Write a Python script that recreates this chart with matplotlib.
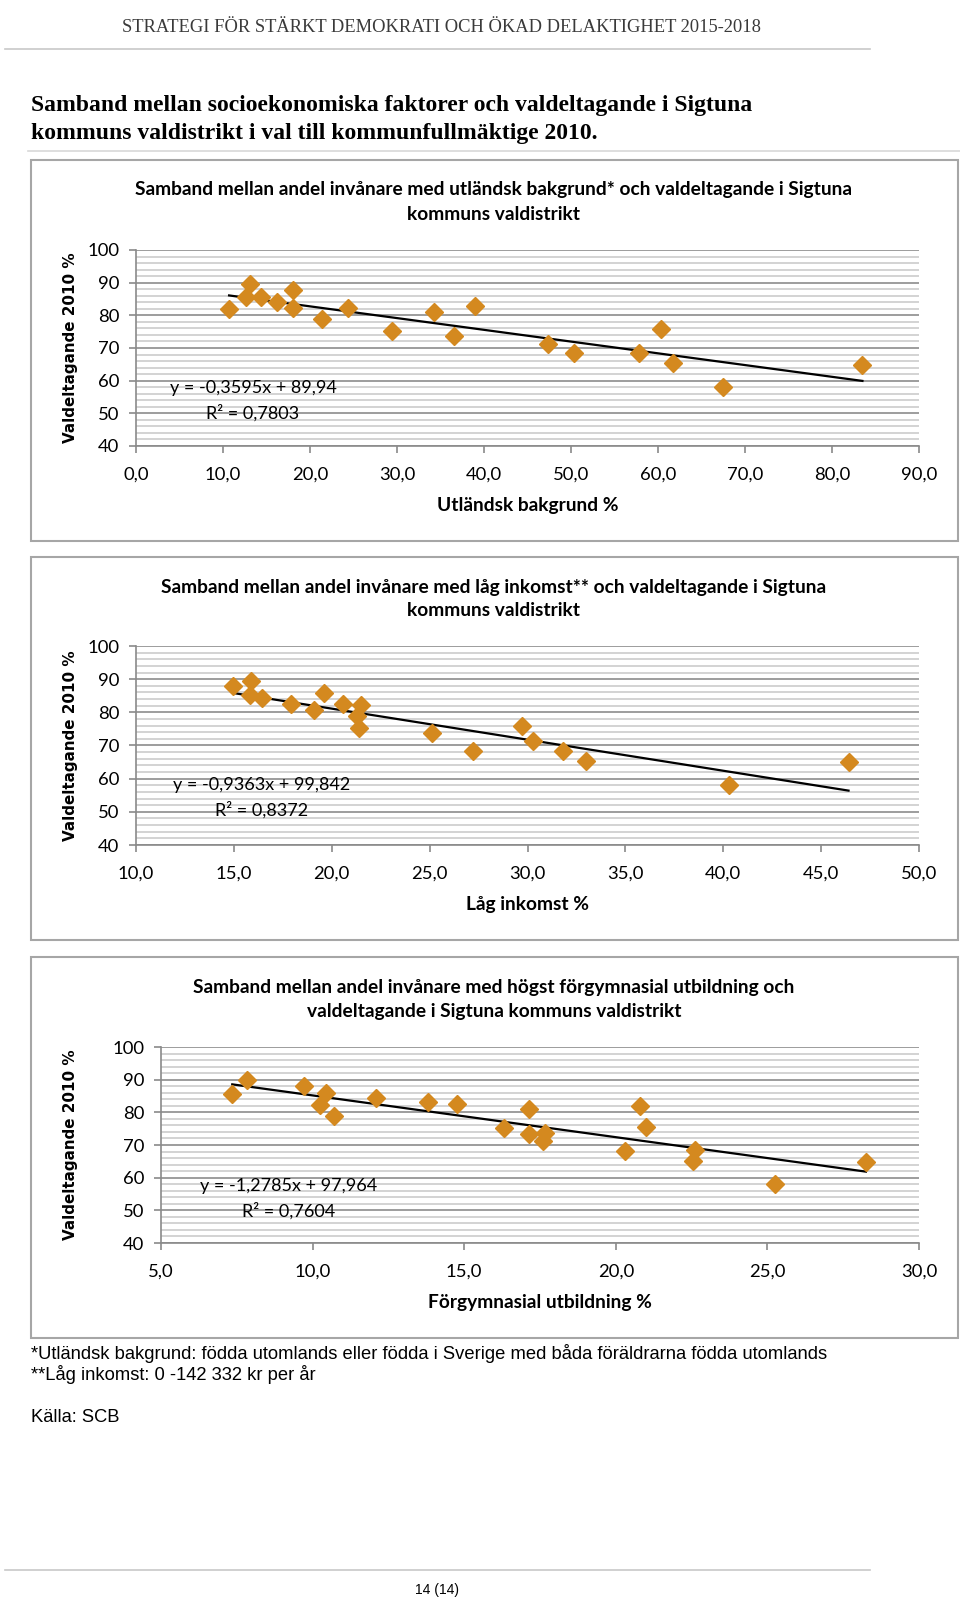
import matplotlib
matplotlib.use("Agg")
import matplotlib.pyplot as plt
from matplotlib.lines import Line2D
from matplotlib.patches import Rectangle
from matplotlib.ticker import MultipleLocator, FormatStrFormatter

W, H = 960, 1601

# --- data ---
y_label = "Valdeltagande 2010 %"

ub_x = [10.7, 12.7, 13.1, 14.4, 16.2, 18.1, 18.0, 21.4, 24.4, 29.4, 34.2, 36.6, 39.0,
        47.4, 50.4, 57.8, 60.4, 61.7, 67.5, 83.5]
ub_y = [81.9, 85.6, 89.7, 85.7, 84.2, 87.9, 82.3, 79.0, 82.2, 75.3, 80.9, 73.6, 82.9,
        71.2, 68.4, 68.5, 75.7, 65.4, 58.0, 64.8]
ub_fit = (-0.3595, 89.94)
ub_eq = ["y = -0,3595x + 89,94", "R² = 0,7803"]

li_x = [14.95, 15.9, 15.8, 16.45, 17.9, 19.1, 19.6, 20.6, 21.5, 21.3, 21.4, 25.1, 27.2,
        29.7, 30.3, 31.8, 33.0, 40.3, 46.4]
li_y = [88.0, 89.5, 85.2, 84.2, 82.5, 80.7, 85.8, 82.4, 82.2, 78.9, 75.3, 73.7, 68.4,
        75.8, 71.5, 68.2, 65.4, 58.2, 64.9]
li_fit = (-0.9363, 99.842)
li_eq = ["y = -0,9363x + 99,842", "R² = 0,8372"]

fg_x = [7.35, 7.85, 9.7, 10.45, 10.25, 10.7, 12.1, 13.8, 14.75, 16.3, 17.15, 17.15, 17.65,
        17.6, 20.3, 20.8, 21.0, 22.6, 22.55, 25.25, 28.25]
fg_y = [85.7, 89.9, 88.0, 85.8, 82.2, 79.0, 84.5, 83.3, 82.7, 75.2, 80.9, 73.5, 73.6,
        71.1, 68.2, 81.8, 75.6, 68.5, 65.2, 58.0, 64.8]
fg_fit = (-1.2785, 97.964)
fg_eq = ["y = -1,2785x + 97,964", "R² = 0,7604"]

DOT = "#d4891f"
CH = "Lato"

fig = plt.figure(figsize=(W / 100, H / 100), dpi=100)


def fx(x):
    return x / W


def fy(y):
    return 1 - y / H


def hline(y, x0, x1, color="#c8c8c8", lw=1.2):
    fig.add_artist(Line2D([fx(x0), fx(x1)], [fy(y), fy(y)], color=color, lw=lw,
                          transform=fig.transFigure))


# page header
fig.text(fx(441), fy(27), "STRATEGI FÖR STÄRKT DEMOKRATI OCH ÖKAD DELAKTIGHET 2015-2018",
         family="Liberation Serif", fontsize=13.3, color="#3a3a3a", ha="center", va="center")
hline(49, 5, 870)
fig.text(fx(31), fy(105), "Samband mellan socioekonomiska faktorer och valdeltagande i Sigtuna",
         family="Liberation Serif", weight="bold", fontsize=17, ha="left", va="center")
fig.text(fx(31), fy(133), "kommuns valdistrikt i val till kommunfullmäktige 2010.",
         family="Liberation Serif", weight="bold", fontsize=17, ha="left", va="center")
hline(151, 28, 960, color="#d8d8d8")


def chart(box, plot, title, xlabel, xs, ys, fit, eq, eq_xy, xlim, xstep):
    bt, bb = box
    fig.add_artist(Rectangle((fx(31), fy(bb)), fx(958) - fx(31), fy(bt) - fy(bb),
                             transform=fig.transFigure, fill=False, ec="#a6a6a6", lw=1.5))
    l, r, t, b = plot
    ax = fig.add_axes([fx(l), fy(b), fx(r) - fx(l), fy(t) - fy(b)])
    ax.set_xlim(*xlim)
    ax.set_ylim(40, 100)
    ax.yaxis.set_major_locator(MultipleLocator(10))
    ax.yaxis.set_minor_locator(MultipleLocator(2))
    ax.xaxis.set_major_locator(MultipleLocator(xstep))
    ax.xaxis.set_major_formatter(FormatStrFormatter("%.1f"))
    ax.set_xticklabels([f"{v:.1f}".replace(".", ",") for v in ax.get_xticks()])
    ax.grid(which="major", axis="y", color="#959595", lw=1.3)
    ax.grid(which="minor", axis="y", color="#c8c8c8", lw=1.1)
    ax.set_axisbelow(True)
    for s in ("top", "right"):
        ax.spines[s].set_visible(False)
    for s in ("left", "bottom"):
        ax.spines[s].set_color("#8a8a8a")
        ax.spines[s].set_linewidth(1.2)
    ax.tick_params(which="major", length=5, color="#8a8a8a", width=1.2, labelsize=13.3)
    ax.tick_params(which="minor", length=0)
    ax.tick_params(axis="y", pad=7)
    ax.tick_params(axis="x", pad=10)
    for lab in ax.get_xticklabels() + ax.get_yticklabels():
        lab.set_family(CH)

    xa, xb = min(xs), max(xs)
    ax.plot([xa, xb], [fit[0] * xa + fit[1], fit[0] * xb + fit[1]], color="black", lw=1.6,
            zorder=3)
    ax.plot(xs, ys, linestyle="none", marker="D", ms=9, color=DOT, mec=DOT, zorder=4,
            clip_on=False)

    cx = (l + r) / 2
    fig.text(fx(494), fy(bt + 30), title[0], family=CH, weight="bold", fontsize=13.8,
             ha="center", va="center")
    fig.text(fx(494), fy(bt + 54), title[1], family=CH, weight="bold", fontsize=13.8,
             ha="center", va="center")
    fig.text(fx(cx), fy(b + 59), xlabel, family=CH, weight="bold", fontsize=13.8,
             ha="center", va="center")
    fig.text(fx(70), fy((t + b) / 2), y_label, family="DejaVu Sans", weight="bold",
             fontsize=10.9, rotation=90, ha="center", va="center")
    ex, ey = eq_xy
    fig.text(fx(ex), fy(ey), eq[0], family=CH, fontsize=13, ha="center", va="center")
    fig.text(fx(ex), fy(ey + 25), eq[1], family=CH, fontsize=13, ha="center", va="center")


chart((160, 541), (136, 919, 250, 446),
      ["Samband mellan andel invånare med utländsk bakgrund* och valdeltagande i Sigtuna",
       "kommuns valdistrikt"],
      "Utländsk bakgrund %", ub_x, ub_y, ub_fit, ub_eq, (253, 388), (0, 90), 10)

chart((557, 940), (136, 919, 646, 845),
      ["Samband mellan andel invånare med låg inkomst** och valdeltagande i Sigtuna",
       "kommuns valdistrikt"],
      "Låg inkomst %", li_x, li_y, li_fit, li_eq, (262, 785), (10, 50), 5)

chart((957, 1338), (161, 919, 1047, 1243),
      ["Samband mellan andel invånare med högst förgymnasial utbildning och",
       "valdeltagande i Sigtuna kommuns valdistrikt"],
      "Förgymnasial utbildning %", fg_x, fg_y, fg_fit, fg_eq, (289, 1186), (5, 30), 5)

# footnotes
foot = dict(family="Liberation Sans", fontsize=13.2, ha="left", va="center")
fig.text(fx(31), fy(1353),
         "*Utländsk bakgrund: födda utomlands eller födda i Sverige med båda föräldrarna födda utomlands",
         **foot)
fig.text(fx(31), fy(1374), "**Låg inkomst: 0 -142 332 kr per år", **foot)
fig.text(fx(31), fy(1417), "Källa: SCB", **foot)
hline(1570, 5, 870)
fig.text(fx(437), fy(1590), "14 (14)", family="Liberation Sans", fontsize=10,
         ha="center", va="center")

fig.savefig("out.png", dpi=100)
